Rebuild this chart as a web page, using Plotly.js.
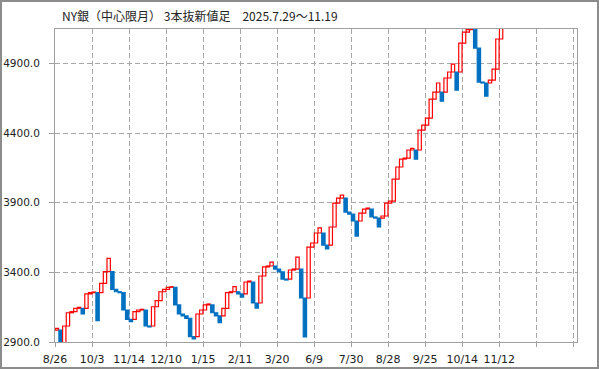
<!DOCTYPE html>
<html><head><meta charset="utf-8">
<script src="https://cdn.plot.ly/plotly-3.0.1.min.js"></script>
<style>
body{margin:0;padding:0;background:#fff}
#chart{position:absolute;left:0;top:0;width:599px;height:369px}
#frame{position:absolute;left:0;top:0;width:599px;height:369px;box-sizing:border-box;border:2px solid #8c8c8c;pointer-events:none}
</style>
</head><body><div id="chart"></div><div id="frame"></div>
<script>
const chartTitle = "NY銀（中心限月） 3本抜新値足　2025.7.29～11.19";
const tickLabels = ["8/26","10/3","11/14","12/10","1/15","2/11","3/20","6/9","7/30","8/28","9/25","10/14","11/12","",""];
const boxOpen = [
 2986,2986,2878,3015,3110,3118,3142,3142,3142,3245,
 3254,3254,3254,3321,3405,3405,3278,3261,3254,3130,
 3063,3063,3118,3130,3130,3015,3015,3153,3197,3261,
 3278,3293,3293,3166,3101,3087,3070,2938,2938,3101,
 3130,3166,3166,3110,3087,3087,3142,3254,3261,3261,
 3245,3245,3331,3331,3180,3180,3374,3439,3446,3446,
 3424,3403,3352,3352,3417,3424,3424,3216,3216,3582,
 3611,3683,3683,3596,3596,3726,3898,3934,3934,3833,
 3819,3769,3769,3826,3855,3855,3798,3790,3790,3805,
 3898,3912,4070,4157,4214,4221,4279,4279,4279,4422,
 4458,4508,4645,4695,4695,4695,4796,4839,4839,4839,
 5047,5126,5144,5144,5011,4767,4760,4760,4781,4860,
 5076];
const boxClose = [
 2998,2878,3015,3110,3118,3142,3149,3101,3245,3254,
 3259,3053,3321,3405,3501,3278,3261,3254,3130,3063,
 3046,3118,3130,3135,3015,3008,3153,3197,3261,3278,
 3293,3297,3166,3101,3087,3070,2938,2922,3101,3130,
 3166,3173,3110,3087,3039,3142,3254,3261,3297,3245,
 3223,3331,3338,3180,3144,3374,3439,3446,3474,3424,
 3403,3352,3345,3417,3424,3510,3216,2936,3582,3611,
 3683,3719,3596,3568,3726,3898,3934,3955,3833,3819,
 3769,3661,3826,3855,3862,3798,3790,3726,3805,3898,
 3912,4070,4157,4214,4221,4279,4291,4214,4422,4458,
 4508,4645,4695,4760,4630,4796,4839,4896,4709,5047,
 5126,5144,5212,5011,4767,4760,4666,4781,4860,5076,
 5248];

const UP_LINE = '#ff0000', DOWN_FILL = '#0070c0';
const xs = boxOpen.map((_, i) => i + 0.5);
const bases = boxOpen.map((o, i) => Math.min(o, boxClose[i]));
const heights = boxOpen.map((o, i) => Math.abs(boxClose[i] - o));
const isUp = boxOpen.map((o, i) => boxClose[i] > o);
const fills = isUp.map(u => u ? 'rgba(255,255,255,0)' : DOWN_FILL);
const lines = isUp.map(u => u ? UP_LINE : DOWN_FILL);

const trace = {
  type: 'bar', x: xs, y: heights, base: bases, width: 0.9,
  marker: {color: fills, line: {color: lines, width: 1.2}},
  hoverinfo: 'skip'
};

const gridC = '#a8a8a8', axisC = '#a0a0a0';
const layout = {
  width: 599, height: 369,
  margin: {l: 55, r: 22, t: 29, b: 27, pad: 0},
  paper_bgcolor: '#fff', plot_bgcolor: '#fff',
  showlegend: false, bargap: 0,
  title: {text: chartTitle, x: 62/599, xanchor: 'left', y: 1 - 17/369, yanchor: 'middle',
          font: {family: 'Noto Sans CJK JP', size: 12, color: '#222'}},
  xaxis: {
    range: [0, 141], tickmode: 'array',
    tickvals: tickLabels.map((_, i) => i * 10), ticktext: tickLabels,
    showgrid: true, gridcolor: gridC, gridwidth: 1, griddash: '5px,3px',
    showline: true, linecolor: axisC, linewidth: 1, mirror: true,
    ticks: 'outside', ticklen: 4, tickcolor: axisC, ticklabelstandoff: 3,
    tickfont: {family: 'DejaVu Sans', size: 11, color: '#222'},
    zeroline: false, fixedrange: true
  },
  yaxis: {
    range: [2900, 5148], tickmode: 'array',
    tickvals: [2900, 3400, 3900, 4400, 4900], tickformat: '.1f',
    showgrid: true, gridcolor: gridC, gridwidth: 1, griddash: '5px,3px',
    showline: true, linecolor: axisC, linewidth: 1, mirror: true,
    ticks: 'outside', ticklen: 5, tickcolor: axisC, ticklabelstandoff: 7,
    tickfont: {family: 'DejaVu Sans', size: 10.5, color: '#222'},
    zeroline: false, fixedrange: true
  }
};
Plotly.newPlot('chart', [trace], layout, {staticPlot: true, displayModeBar: false});
</script>
</body></html>
